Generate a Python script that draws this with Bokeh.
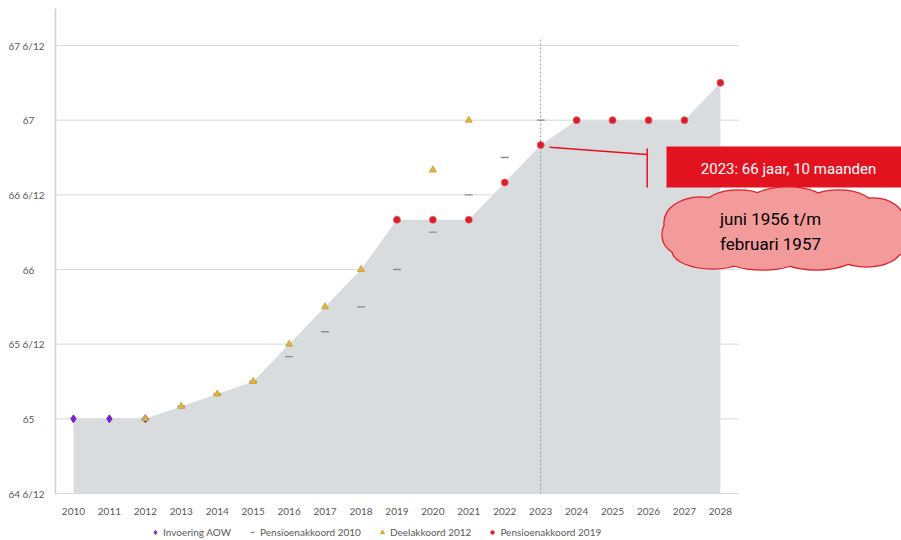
from bokeh.plotting import figure
from bokeh.layouts import column
from bokeh.models import Range1d, FixedTicker, Legend, LegendItem
from bokeh.core.properties import value
from bokeh.embed import file_html
from bokeh.resources import INLINE

# ---------------- data (age = 65 + months/12) ----------------
years = list(range(2010, 2029))
area_months = [0, 0, 0, 1, 2, 3, 6, 9, 12, 16, 16, 16, 19, 22, 24, 24, 24, 24, 27]

aow_years = [2010, 2011, 2012]
aow_months = [0, 0, 0]

pa2010_years = [2012, 2013, 2014, 2015, 2016, 2017, 2018, 2019, 2020, 2021, 2022, 2023]
pa2010_months = [0, 1, 2, 3, 5, 7, 9, 12, 15, 18, 21, 24]

da2012_years = [2012, 2013, 2014, 2015, 2016, 2017, 2018, 2019, 2020, 2021]
da2012_months = [0, 1, 2, 3, 6, 9, 12, 16, 20, 24]

pa2019_years = [2019, 2020, 2021, 2022, 2023, 2024, 2025, 2026, 2027, 2028]
pa2019_months = [16, 16, 16, 19, 22, 24, 24, 24, 24, 27]

series_names = ["Invoering AOW", "Pensioenakkoord 2010", "Deelakkoord 2012", "Pensioenakkoord 2019"]

y_ticks = [64.5, 65, 65.5, 66, 66.5, 67, 67.5]
y_tick_labels = ["64 6/12", "65", "65 6/12", "66", "66 6/12", "67", "67 6/12"]

highlight_year = 2023
callout_text = "2023: 66 jaar, 10 maanden"
cloud_lines = ["juni 1956 t/m", "februari 1957"]


def age(m):
    return [65 + v / 12 for v in m]


# ---------------- styles ----------------
STYLES = [
    dict(marker="diamond", size=8, fill_color="#7a1fd6", line_color="#7a1fd6"),
    dict(marker="dash", size=8, line_color="#8c8c8c", line_width=1.3),
    dict(marker="triangle", size=7, fill_color="#e2b33c", line_color="#c99a2a", line_width=0.8),
    dict(marker="circle", size=7, fill_color="#d81e2a", line_color="#e8606a", line_width=0.8),
]

# ---------------- figure geometry ----------------
PX_X = 35.94   # px per year
PX_Y = 149.33  # px per year of age
LEFT = 55      # frame left (page px)
TOP = 8        # frame top (page px)
FRAME_W = 901 - LEFT
FRAME_H = 486
x0 = 2009.5
y0 = 64.5 - 1 / PX_Y

p = figure(width=901, height=518, output_backend="svg", toolbar_location=None,
           x_range=Range1d(x0, x0 + FRAME_W / PX_X),
           y_range=Range1d(y0, y0 + FRAME_H / PX_Y),
           min_border_left=LEFT, min_border_right=0, min_border_top=TOP,
           min_border_bottom=24)
p.outline_line_color = None
p.xgrid.visible = False
p.ygrid.visible = False


def px(xp, yp):
    """convert page pixel position into data coordinates."""
    return x0 + (xp - LEFT) / PX_X, y0 + (TOP + FRAME_H - yp) / PX_Y


FONT = "Lato"
TICK_COLOR = "#595959"

# gridlines (under area)
x_left, x_right = 2009.5, 2028.5
p.segment(x0=[x_left] * 6, x1=[x_right] * 6, y0=y_ticks[1:], y1=y_ticks[1:],
          line_color="#d9d9d9", line_width=1)
p.segment(x0=[x_left], x1=[x_right], y0=[64.5], y1=[64.5], line_color="#d9d9d9", line_width=1)

# area
p.varea(x=years, y1=[64.5] * len(years), y2=age(area_months), fill_color="#d9dcde")

# vertical dotted line at 2023
p.segment(x0=[highlight_year], x1=[highlight_year], y0=[64.5], y1=[67.54],
          line_color="#9a9a9a", line_width=1, line_dash="2 2")

# series
p.scatter(aow_years, age(aow_months), **STYLES[0])
p.scatter(pa2010_years, age(pa2010_months), **STYLES[1])
p.scatter(da2012_years, age(da2012_months), **STYLES[2])
p.scatter(pa2019_years, age(pa2019_months), **STYLES[3])

# callout
ax1, ay1 = px(549, 146.7)
ax2, ay2 = px(646.7, 154)
p.segment(x0=[ax1], y0=[ay1], x1=[ax2], y1=[ay2], line_color="#e8101e", line_width=1.5)
vx, vy_top = px(646.7, 148)
_, vy_bot = px(646.7, 187)
p.segment(x0=[vx], x1=[vx], y0=[vy_top], y1=[vy_bot], line_color="#e8101e", line_width=1.5)
bl, bt = px(666, 146)
br, bb = px(915, 187)
p.quad(left=[bl], right=[br], top=[bt], bottom=[bb], fill_color="#e3121f", line_color=None)
tx, ty = px(788, 168)
p.text(x=[tx], y=[ty], text=[callout_text], text_color="white",
       text_font=value("Roboto"), text_font_size=value("15px"),
       text_align="center", text_baseline="middle")

# cloud
lobes = [  # (cx, cy, w, h) in page px
    (700, 222, 72, 50), (738, 208, 72, 36), (787, 204, 80, 34), (838, 208, 72, 36),
    (873, 222, 62, 48), (712, 250, 80, 36), (762, 255, 80, 28), (816, 254, 80, 30),
    (866, 247, 70, 38), (682, 234, 40, 40), (892, 236, 32, 40), (782, 230, 200, 50),
]
cxs, cys, ws, hs = [], [], [], []
for (cx, cy, w, h) in lobes:
    dx, dy = px(cx, cy)
    cxs.append(dx)
    cys.append(dy)
    ws.append(w)
    hs.append(h)
p.ellipse(x=cxs, y=cys, width=ws, height=hs, width_units="screen", height_units="screen",
          fill_color="#f39a9b", line_color="#e0202a", line_width=2.5)
p.ellipse(x=cxs, y=cys, width=ws, height=hs, width_units="screen", height_units="screen",
          fill_color="#f39a9b", line_color=None)
c1x, c1y = px(770, 218)
c2x, c2y = px(770, 243)
p.text(x=[c1x, c2x], y=[c1y, c2y], text=cloud_lines, text_color="black",
       text_font=value("Roboto"), text_font_size=value("17px"),
       text_align="center", text_baseline="middle")

# axes
p.xaxis.ticker = FixedTicker(ticks=years)
p.xaxis.axis_line_color = None
p.xaxis.major_tick_line_color = None
p.xaxis.minor_tick_line_color = None
p.xaxis.major_label_standoff = 7
p.xaxis.major_label_text_font = FONT
p.xaxis.major_label_text_font_size = "10px"
p.xaxis.major_label_text_color = TICK_COLOR

# pad short labels with no-break spaces so they sit centred like the reference
pad = {2: "\u00a0" * 4}
p.yaxis.ticker = FixedTicker(ticks=y_ticks)
p.yaxis.major_label_overrides = {t: l + pad.get(len(l), "") for t, l in zip(y_ticks, y_tick_labels)}
p.yaxis.axis_line_color = "#d0d0d0"
p.yaxis.axis_line_width = 1.5
p.yaxis.major_tick_line_color = None
p.yaxis.minor_tick_line_color = None
p.yaxis.major_label_standoff = 5
p.yaxis.major_label_text_font = FONT
p.yaxis.major_label_text_font_size = "10px"
p.yaxis.major_label_text_color = TICK_COLOR

# ---------------- legend strip ----------------
lf = figure(width=901, height=20, output_backend="svg", toolbar_location=None,
            x_range=Range1d(0, 1), y_range=Range1d(0, 1),
            x_axis_location=None, y_axis_location=None,
            min_border=0, min_border_left=0, min_border_right=0,
            min_border_top=0, min_border_bottom=0)
lf.outline_line_color = None
lf.grid.visible = False
items = []
for name, st in zip(series_names, STYLES):
    r = lf.scatter(x=[-5], y=[-5], **st)   # off-range: only its legend glyph shows
    items.append(LegendItem(label=name, renderers=[r]))
legend = Legend(items=items, orientation="horizontal", location=(95, 0),
                border_line_color=None, background_fill_alpha=0,
                label_text_font=FONT, label_text_font_size="10px",
                label_text_color=TICK_COLOR, glyph_width=10, glyph_height=12,
                spacing=16, padding=0, margin=0, label_standoff=3, label_height=12)
lf.add_layout(legend, "center")

layout = column(p, lf, spacing=0)
open("out.html", "w").write(file_html(layout, INLINE))
